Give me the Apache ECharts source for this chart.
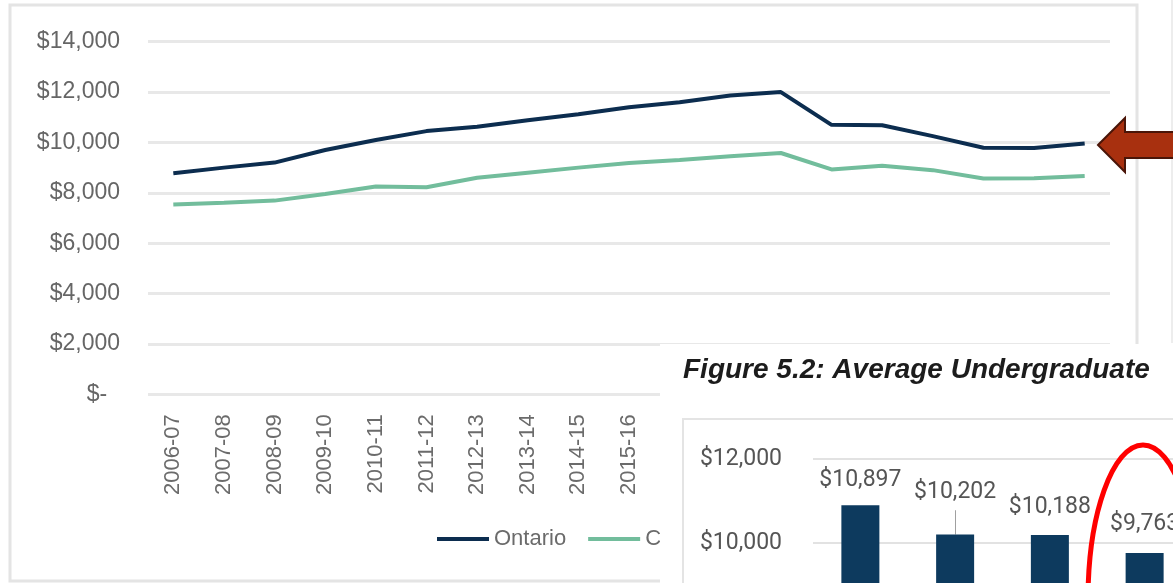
<!DOCTYPE html>
<html>
<head>
<meta charset="utf-8">
<script src="https://cdn.jsdelivr.net/npm/echarts@6/dist/echarts.min.js"></script>
<style>
  html, body { margin: 0; padding: 0; background: #ffffff; }
  #chart { width: 1173px; height: 583px; }
</style>
</head>
<body>
<div id="chart"></div>
<script>
// ---- Main line chart data ----
const years = ['2006-07','2007-08','2008-09','2009-10','2010-11','2011-12','2012-13','2013-14','2014-15','2015-16','2016-17','2017-18','2018-19','2019-20','2020-21','2021-22','2022-23','2023-24','2024-25'];
const ontario = [8780, 9000, 9200, 9700, 10100, 10450, 10620, 10880, 11120, 11400, 11600, 11860, 12000, 10700, 10680, 10250, 9790, 9780, 9960];
const canada  = [7540, 7610, 7690, 7950, 8250, 8220, 8600, 8800, 9000, 9180, 9300, 9450, 9580, 8930, 9070, 8900, 8570, 8580, 8670];
const mainTicks = { min: 0, max: 14000, interval: 2000 };

// ---- Inset bar chart data (Figure 5.2) ----
const insetTitle = 'Figure 5.2: Average Undergraduate';
const insetCategories = ['1', '2', '3', '4'];
const insetValues = [10897, 10202, 10188, 9763];
const insetTicks = { min: 0, max: 12000, interval: 2000 };

const fmtDollar = v => v === 0 ? '$-  ' : '$' + v.toLocaleString('en-US');

const chart = echarts.init(document.getElementById('chart'), null, { renderer: 'canvas' });

const labelDistances = [14, 31, 16, 17];

chart.setOption({
  animation: false,
  backgroundColor: '#ffffff',
  grid: [
    { left: 148, right: 63, top: 41.7, bottom: 188.7, containLabel: false, outerBoundsMode: 'none' },
    { left: 813, width: 379, top: 459, height: 504, containLabel: false, outerBoundsMode: 'none' }
  ],
  legend: {
    data: ['Ontario', 'Canada'],
    left: 432, top: 523,
    icon: 'rect', itemWidth: 52, itemHeight: 4, itemGap: 22,
    textStyle: { fontSize: 22, color: '#6b6b6b', fontFamily: 'Liberation Sans, Arial, sans-serif' },
    z: 4
  },
  xAxis: [
    {
      type: 'category', gridIndex: 0, data: years, boundaryGap: true,
      axisLine: { show: false }, axisTick: { show: false },
      axisLabel: { rotate: 90, margin: 20, fontSize: 22, color: '#6b6b6b', fontFamily: 'Liberation Sans, Arial, sans-serif', interval: 0 }
    },
    {
      type: 'category', gridIndex: 1, data: insetCategories, boundaryGap: true, z: 150,
      axisLine: { show: false }, axisTick: { show: false }, axisLabel: { show: false }
    }
  ],
  yAxis: [
    {
      type: 'value', gridIndex: 0, min: mainTicks.min, max: mainTicks.max, interval: mainTicks.interval,
      axisLine: { show: false }, axisTick: { show: false },
      axisLabel: { margin: 28, fontSize: 23, color: '#666666', fontFamily: 'Liberation Sans, Arial, sans-serif', formatter: fmtDollar },
      splitLine: { lineStyle: { color: '#e8e8e8', width: 3 } }
    },
    {
      type: 'value', gridIndex: 1, min: insetTicks.min, max: insetTicks.max, interval: insetTicks.interval, z: 150,
      axisLine: { show: false }, axisTick: { show: false },
      axisLabel: { margin: 31, fontSize: 23, color: '#555555', fontFamily: 'Roboto, sans-serif', formatter: fmtDollar },
      splitLine: { lineStyle: { color: '#e2e2e2', width: 2 } }
    }
  ],
  series: [
    {
      name: 'Ontario', type: 'line', xAxisIndex: 0, yAxisIndex: 0, data: ontario,
      showSymbol: false, symbol: 'none', smooth: false,
      lineStyle: { color: '#0c2d4f', width: 4 }, itemStyle: { color: '#0c2d4f' }, z: 3
    },
    {
      name: 'Canada', type: 'line', xAxisIndex: 0, yAxisIndex: 0, data: canada,
      showSymbol: false, symbol: 'none', smooth: false,
      lineStyle: { color: '#72bd9c', width: 4 }, itemStyle: { color: '#72bd9c' }, z: 2
    },
    {
      name: 'Inset', type: 'bar', xAxisIndex: 1, yAxisIndex: 1,
      data: insetValues.map((v, i) => ({ value: v, label: { distance: labelDistances[i] } })),
      barWidth: 38, itemStyle: { color: '#0d3a5e' }, z: 160,
      label: {
        show: true, position: 'top', fontSize: 23, color: '#555555', fontFamily: 'Roboto, sans-serif',
        formatter: p => '$' + p.value.toLocaleString('en-US')
      },
      markLine: {
        silent: true, symbol: 'none', z: 160,
        lineStyle: { color: '#a0a0a0', width: 1, type: 'solid' },
        label: { show: false },
        data: [[{ coord: [insetCategories[1], insetValues[1]] }, { coord: [insetCategories[1], 10780] }]]
      }
    }
  ],
  graphic: [
    // main chart frame
    { type: 'rect', z: 1, silent: true, shape: { x: 10, y: 5, width: 1127, height: 576 },
      style: { fill: 'none', stroke: '#e4e4e4', lineWidth: 3 } },
    { type: 'line', z: 1, silent: true, shape: { x1: 1172, y1: 0, x2: 1172, y2: 343 },
      style: { stroke: '#ededed', lineWidth: 2 } },
    // inset white panel
    { type: 'rect', z: 100, silent: true, shape: { x: 660, y: 344, width: 520, height: 250 },
      style: { fill: '#ffffff', stroke: 'none' } },
    { type: 'text', z: 120, silent: true, left: 683, top: 356,
      style: { text: insetTitle, font: 'italic bold 28px "Liberation Sans", Arial, sans-serif', fill: '#1c1c1c' } },
    { type: 'rect', z: 110, silent: true, shape: { x: 683, y: 419, width: 520, height: 200 },
      style: { fill: '#ffffff', stroke: '#e4e4e4', lineWidth: 2 } },
    // red ellipse annotation
    { type: 'ellipse', z: 200, silent: true, shape: { cx: 1143, cy: 600, rx: 55, ry: 155 },
      style: { fill: 'none', stroke: '#ff0000', lineWidth: 5 } },
    // arrow annotation
    { type: 'polygon', z: 200, silent: true,
      shape: { points: [[1098, 145], [1125, 118], [1125, 132], [1180, 132], [1180, 158], [1125, 158], [1125, 172]] },
      style: { fill: '#a8300f', stroke: '#4a1508', lineWidth: 2 } }
  ]
});
</script>
</body>
</html>
